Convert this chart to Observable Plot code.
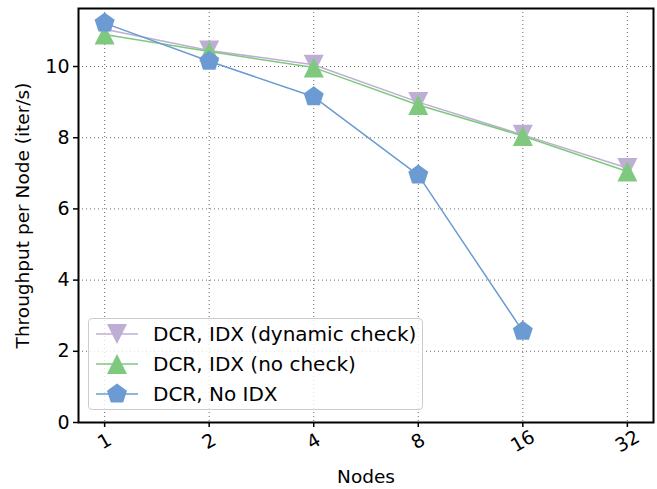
<!DOCTYPE html>
<html><head><meta charset="utf-8">
<script src="https://cdn.jsdelivr.net/npm/d3@7"></script>
<script src="https://cdn.jsdelivr.net/npm/@observablehq/plot@0.6"></script>
<style>
body{margin:0;background:#fff;font-family:"DejaVu Sans",sans-serif;}
#wrap{position:relative;width:657px;height:489px;}
.legend{position:absolute;left:88px;top:318px;width:335px;height:92px;border:1px solid #cccccc;border-radius:4px;background:rgba(255,255,255,0.8);box-sizing:border-box;}
.row{position:absolute;left:0;height:30px;display:flex;align-items:center;font-size:20px;color:#000;white-space:nowrap;}
.row svg{margin-left:6px;margin-right:14px;}
</style></head>
<body><div id="wrap"></div>
<script>
const nodes = [1, 2, 4, 8, 16, 32];
const dynamicCheck = [11.05, 10.45, 10.05, 9.0, 8.08, 7.15];
const noCheck = [10.9, 10.42, 9.97, 8.92, 8.05, 7.05];
const noIdx = [11.22, 10.15, 9.15, 6.95, 2.56];
const seriesLabels = ["DCR, IDX (dynamic check)", "DCR, IDX (no check)", "DCR, No IDX"];
const seriesColors = ["#beaed4", "#7fc97f", "#6b9bd2"];
const yTicks = [0, 2, 4, 6, 8, 10];
const xLabel = "Nodes";
const yLabel = "Throughput per Node (iter/s)";

const symDown = {draw(ctx, size){const r=Math.sqrt(size/Math.PI); ctx.moveTo(0,r); ctx.lineTo(-r,-r); ctx.lineTo(r,-r); ctx.closePath();}};
const symUp = {draw(ctx, size){const r=Math.sqrt(size/Math.PI); ctx.moveTo(0,-r); ctx.lineTo(-r,r); ctx.lineTo(r,r); ctx.closePath();}};
const symPent = {draw(ctx, size){const r=Math.sqrt(size/Math.PI)*1.05; for(let k=0;k<5;k++){const a=-Math.PI/2+k*2*Math.PI/5; const px=r*Math.cos(a), py=r*Math.sin(a); if(k===0) ctx.moveTo(px,py); else ctx.lineTo(px,py);} ctx.closePath();}};
const symbols = [symDown, symUp, symPent];
const seriesValues = [dynamicCheck, noCheck, noIdx];

const series = seriesValues.map((vals, i) => vals.map((v, j) => ({x: nodes[j], y: v, s: i})));

const marks = [
  Plot.gridX(nodes, {stroke: "#444", strokeOpacity: 0.8, strokeDasharray: "1,3", strokeWidth: 1}),
  Plot.gridY(yTicks, {stroke: "#444", strokeOpacity: 0.8, strokeDasharray: "1,3", strokeWidth: 1}),
];
series.forEach((data, i) => {
  marks.push(Plot.line(data, {x: "x", y: "y", stroke: seriesColors[i], strokeWidth: 1.5}));
  marks.push(Plot.dot(data, {x: "x", y: "y", fill: seriesColors[i], stroke: "none", r: 10, symbol: symbols[i]}));
});
marks.push(
  Plot.frame({stroke: "black", strokeWidth: 2}),
  Plot.axisY(yTicks, {tickSize: 5, tickPadding: 4, fontSize: 19, strokeWidth: 1.5, label: null}),
  Plot.axisX(nodes, {tickSize: 5, tickFormat: () => "", strokeWidth: 1.5, label: null}),
  Plot.text(nodes, {x: d => d, frameAnchor: "bottom", dy: 19, rotate: -30, text: d => String(d), fontSize: 19, textAnchor: "middle", lineAnchor: "middle", fill: "black"}),
  Plot.text([xLabel], {frameAnchor: "bottom", dy: 60, text: d => d, fontSize: 18.5, textAnchor: "middle", fill: "black"}),
  Plot.text([yLabel], {frameAnchor: "left", dx: -55, rotate: -90, text: d => d, fontSize: 18.5, textAnchor: "middle", lineAnchor: "middle", fill: "black"})
);

const chart = Plot.plot({
  width: 657, height: 489,
  marginLeft: 78, marginRight: 4, marginTop: 8, marginBottom: 67,
  style: {fontFamily: "DejaVu Sans", fontSize: "18px", color: "black", background: "white"},
  x: {type: "log", base: 2, domain: [Math.pow(2, -0.25), Math.pow(2, 5.25)]},
  y: {domain: [0, 11.63]},
  marks
});
const wrap = document.getElementById("wrap");
wrap.appendChild(chart);

const legend = document.createElement("div");
legend.className = "legend";
seriesLabels.forEach((lab, i) => {
  const row = document.createElement("div");
  row.className = "row";
  row.style.top = (i * 30) + "px";
  const svg = d3.create("svg").attr("width", 44).attr("height", 26);
  svg.append("line").attr("x1", 1).attr("x2", 43).attr("y1", 13).attr("y2", 13).attr("stroke", seriesColors[i]).attr("stroke-width", 1.5);
  svg.append("path").attr("transform", "translate(22,13)").attr("d", d3.symbol().type(symbols[i]).size(100 * Math.PI)()).attr("fill", seriesColors[i]);
  row.appendChild(svg.node());
  const t = document.createElement("span");
  t.textContent = lab;
  row.appendChild(t);
  legend.appendChild(row);
});
wrap.appendChild(legend);
</script></body></html>
